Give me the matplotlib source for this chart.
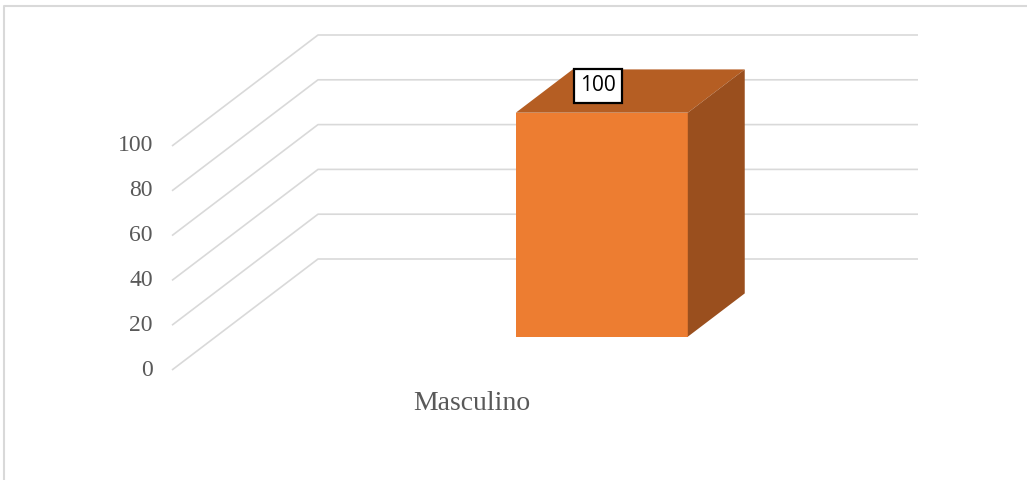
import numpy as np
import matplotlib
matplotlib.use('Agg')
import matplotlib.pyplot as plt

# chart data
categories = ['Masculino']
values = [100]
tickValues = [0, 20, 40, 60, 80, 100]

# colours
frontColor = '#ED7D31'
topColor = '#B55E23'
sideColor = '#9A4F1E'
gridColor = '#D9D9D9'
textColor = '#595959'

# pseudo 3D layout (x in pixels, y in value units)
pxPerUnit = 2.24
wallDx = 146                      # depth shift of back wall, pixels
wallDy = 111 / pxPerUnit          # depth shift of back wall, value units
floorLeft = 172
wallRight = 918
catCenter = 472                   # category centre on the front plane
barWidth = 172
barDepth0 = 0.3                   # bar front, as fraction of full depth
barDepth1 = 0.69                  # bar back

fig = plt.figure(figsize=(10.27, 4.8), dpi=100)
ax = fig.add_axes([0, 0, 1, 1])
ax.set_xlim(0, 1027)
ax.set_ylim(-110 / pxPerUnit, 370 / pxPerUnit)
ax.axis('off')

def proj(x, v, d):
    #shift a front-plane point back by depth fraction d
    return x + wallDx * d, v + wallDy * d

#gridlines: diagonal on the side wall then flat on the back wall
for v in tickValues:
    x0, y0 = proj(floorLeft, v, 0)
    x1, y1 = proj(floorLeft, v, 1)
    ax.plot([x0, x1, wallRight], [y0, y1, y1], color=gridColor, lw=1.2,
            solid_capstyle='butt', zorder=1)
    ax.text(floorLeft - 19, v, str(v), ha='right', va='center',
            fontsize=17, family='Liberation Serif', color=textColor)

#bars
for i, (cat, val) in enumerate(zip(categories, values)):
    xl = catCenter + i * 300
    xr = xl + barWidth
    fl = proj(xl, 0, barDepth0)
    fr = proj(xr, 0, barDepth0)
    tl = proj(xl, val, barDepth0)
    tr = proj(xr, val, barDepth0)
    btl = proj(xl, val, barDepth1)
    btr = proj(xr, val, barDepth1)
    bbr = proj(xr, 0, barDepth1)
    ax.fill([fl[0], fr[0], tr[0], tl[0]], [fl[1], fr[1], tr[1], tl[1]],
            color=frontColor, lw=0, zorder=3)
    ax.fill([tl[0], tr[0], btr[0], btl[0]], [tl[1], tr[1], btr[1], btl[1]],
            color=topColor, lw=0, zorder=3)
    ax.fill([fr[0], bbr[0], btr[0], tr[0]], [fr[1], bbr[1], btr[1], tr[1]],
            color=sideColor, lw=0, zorder=3)
    #data label on the top face
    lx, ly = proj(xl + 54, val, (barDepth0 + barDepth1) / 2)
    ax.text(lx, ly + 2.3, str(val), ha='center', va='center', fontsize=15,
            family='Open Sans', color='black', zorder=5,
            bbox=dict(boxstyle='square,pad=0.3', fc='white', ec='black', lw=1.6))
    #category label under the floor
    ax.text(catCenter + i * 300, -15, cat, ha='center', va='center', fontsize=20,
            family='Liberation Serif', color=textColor)

#chart area border (left and top)
ax.plot([4, 4, 1027], [-110 / pxPerUnit, 364 / pxPerUnit, 364 / pxPerUnit],
        color=gridColor, lw=1.5, clip_on=False)

fig.savefig('out.png', dpi=100)
